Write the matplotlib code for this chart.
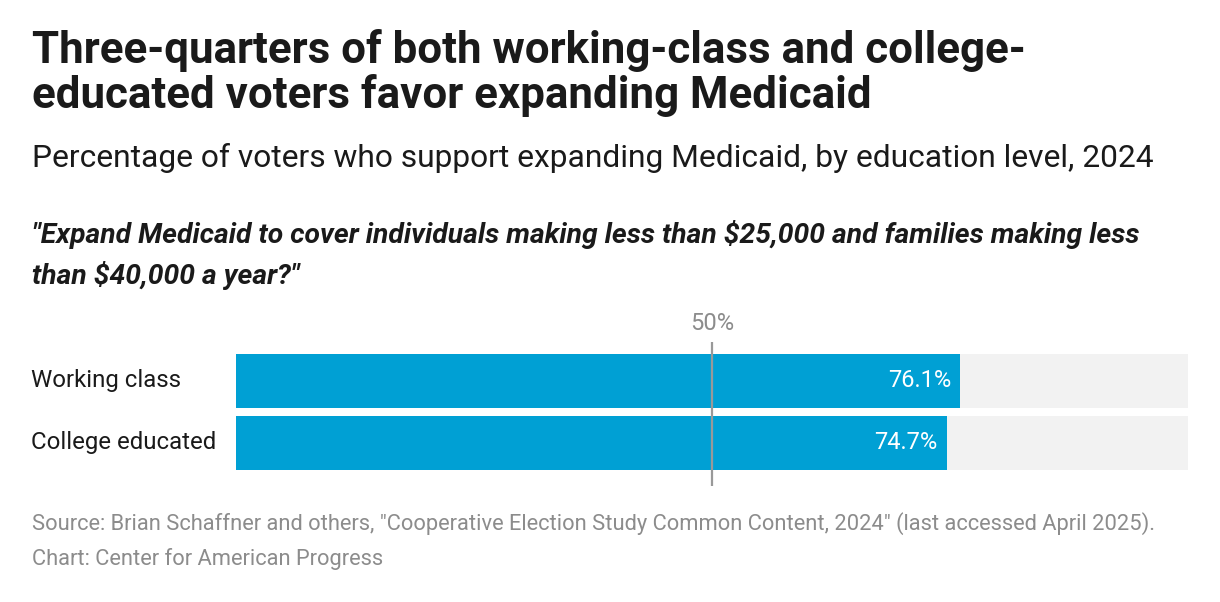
import matplotlib.pyplot as plt

# Datos
categorias = ['Working class', 'College educated']
valores = [76.1, 74.7]
maximo = 100
referencia = 50

W, H = 1220, 602
plt.rcParams['font.family'] = ['Roboto', 'DejaVu Sans']

fig = plt.figure(figsize=(W / 100, H / 100), dpi=100)


def fy(y_px):
    return 1 - y_px / H


# Ejes de las barras (pixeles 236..1188 en x, 342..486 en y)
ax = fig.add_axes([236 / W, fy(486), (1188 - 236) / W, (486 - 342) / H])
pos = list(range(len(categorias)))
alto = 54 / 62

ax.barh(pos, [maximo] * len(pos), height=alto, color='#f2f2f2', zorder=1)
ax.barh(pos, valores, height=alto, color='#00a0d4', zorder=2)
ax.axvline(referencia, color='#999999', lw=1.6, zorder=3)

for i, v in enumerate(valores):
    ax.text(v - 1.0, i, f'{v:.1f}%', ha='right', va='center',
            fontsize=17, color='white', zorder=4)

ax.set_xlim(0, maximo)
ax.set_ylim(1 + 43 / 62, -39 / 62)
ax.axis('off')

# Etiquetas de categorias
for i, c in enumerate(categorias):
    ax.text(-21.5, i, c, ha='left', va='center', fontsize=17.3, color='#1a1a1a')

# Etiqueta de la referencia
ax.text(referencia, -39 / 62 - 12 / 62, f'{referencia}%', ha='center', va='baseline',
        fontsize=17, color='#8c8c8c')

# Titulos
fig.text(32 / W, fy(63), 'Three-quarters of both working-class and college-',
         fontsize=31.6, fontweight='bold', color='#1a1a1a', va='baseline')
fig.text(32 / W, fy(108), 'educated voters favor expanding Medicaid',
         fontsize=31.6, fontweight='bold', color='#1a1a1a', va='baseline')
fig.text(32 / W, fy(167), 'Percentage of voters who support expanding Medicaid, by education level, 2024',
         fontsize=22.9, color='#1a1a1a', va='baseline')
fig.text(32 / W, fy(243), '"Expand Medicaid to cover individuals making less than $25,000 and families making less',
         fontsize=20.3, fontweight='bold', style='italic', color='#1a1a1a', va='baseline')
fig.text(32 / W, fy(284), 'than $40,000 a year?"',
         fontsize=20.3, fontweight='bold', style='italic', color='#1a1a1a', va='baseline')

# Notas
fig.text(32 / W, fy(530), 'Source: Brian Schaffner and others, "Cooperative Election Study Common Content, 2024" (last accessed April 2025).',
         fontsize=15.75, color='#8c8c8c', va='baseline')
fig.text(32 / W, fy(565), 'Chart: Center for American Progress',
         fontsize=15.75, color='#8c8c8c', va='baseline')

fig.savefig('out.png', dpi=100, facecolor='white')
